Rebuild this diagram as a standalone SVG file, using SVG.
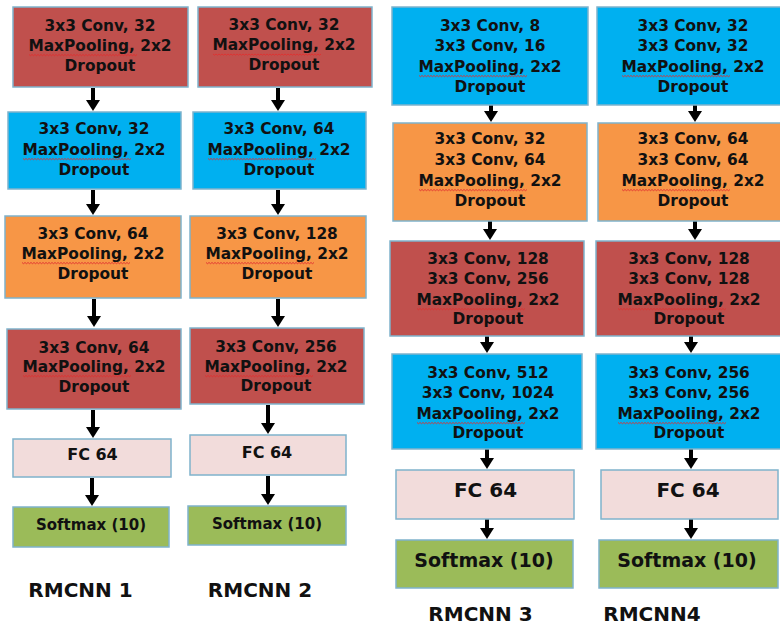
<svg xmlns="http://www.w3.org/2000/svg" xmlns:xlink="http://www.w3.org/1999/xlink" width="780" height="627" viewBox="0 0 780 627">
<style>
.box{stroke:#7fb3cc;stroke-width:1.5}
.red{fill:#c0504d}.blue{fill:#00b0f0}.orange{fill:#f79646}.pink{fill:#f2dcdb}.green{fill:#9bbb59}
text{font-family:"DejaVu Sans","Liberation Sans",sans-serif;font-weight:bold;fill:#111;text-anchor:middle}
.t{font-size:15.4px}
.fs{font-size:16px}.ss{font-size:15px}
.fl{font-size:20px}.sl{font-size:19px}
.lab{font-size:20px}
.arr{stroke:#000;stroke-width:4;fill:none;marker-end:url(#ah)}
.sq{stroke:#e03030;stroke-width:0.9;fill:none}
</style>
<defs>
<marker id="ah" markerUnits="userSpaceOnUse" markerWidth="11" markerHeight="14" viewBox="0 0 11 14" refX="0" refY="7" orient="auto">
<path d="M0,0 L11,7 L0,14 z" fill="#000"/>
</marker>
<path id="sq" class="sq" d="M0 0 l1.5 1.2 l1.5 -1.2 l1.5 1.2 l1.5 -1.2 l1.5 1.2 l1.5 -1.2 l1.5 1.2 l1.5 -1.2 l1.5 1.2 l1.5 -1.2 l1.5 1.2 l1.5 -1.2 l1.5 1.2 l1.5 -1.2 l1.5 1.2 l1.5 -1.2 l1.5 1.2 l1.5 -1.2 l1.5 1.2 l1.5 -1.2 l1.5 1.2 l1.5 -1.2 l1.5 1.2 l1.5 -1.2 l1.5 1.2 l1.5 -1.2 l1.5 1.2 l1.5 -1.2 l1.5 1.2 l1.5 -1.2 l1.5 1.2 l1.5 -1.2 l1.5 1.2 l1.5 -1.2 l1.5 1.2 l1.5 -1.2 l1.5 1.2 l1.5 -1.2 l1.5 1.2 l1.5 -1.2 l1.5 1.2 l1.5 -1.2 l1.5 1.2 l1.5 -1.2 l1.5 1.2 l1.5 -1.2 l1.5 1.2 l1.5 -1.2 l1.5 1.2 l1.5 -1.2 l1.5 1.2 l1.5 -1.2 l1.5 1.2 l1.5 -1.2 l1.5 1.2 l1.5 -1.2 l1.5 1.2 l1.5 -1.2 l1.5 1.2 l1.5 -1.2 l1.5 1.2 l1.5 -1.2 l1.5 1.2 l1.5 -1.2 l1.5 1.2 l1.5 -1.2 l1.5 1.2 l1.5 -1.2 l1.5 1.2 l1.5 -1.2 l1.5 1.2 l1.5 -1.2"/>
</defs>
<rect width="780" height="627" fill="#fff"/>

<g id="connectors">
<line class="arr" x1="93" y1="88" x2="93" y2="100"/>
<line class="arr" x1="93" y1="190" x2="93" y2="204"/>
<line class="arr" x1="94" y1="299" x2="94" y2="316"/>
<line class="arr" x1="93" y1="410" x2="93" y2="427"/>
<line class="arr" x1="92" y1="478" x2="92" y2="495"/>
<line class="arr" x1="278" y1="88" x2="278" y2="100"/>
<line class="arr" x1="278" y1="190" x2="278" y2="204"/>
<line class="arr" x1="278" y1="299" x2="278" y2="316"/>
<line class="arr" x1="268" y1="405" x2="268" y2="423"/>
<line class="arr" x1="268" y1="476" x2="268" y2="494"/>
<line class="arr" x1="491" y1="105" x2="491" y2="111"/>
<line class="arr" x1="490" y1="221" x2="490" y2="229"/>
<line class="arr" x1="487" y1="336" x2="487" y2="342"/>
<line class="arr" x1="487" y1="449" x2="487" y2="458"/>
<line class="arr" x1="487" y1="519" x2="487" y2="528"/>
<line class="arr" x1="695" y1="105" x2="695" y2="111"/>
<line class="arr" x1="695" y1="221" x2="695" y2="229"/>
<line class="arr" x1="691" y1="336" x2="691" y2="342"/>
<line class="arr" x1="691" y1="449" x2="691" y2="458"/>
<line class="arr" x1="691" y1="519" x2="691" y2="528"/>
</g>

<!-- RMCNN 1 -->
<g id="c1b1"><rect class="box red" x="13" y="7" width="175" height="80"/>
<text class="t" x="100" y="30.5">3x3 Conv, 32</text><text class="t" x="100" y="50.5">MaxPooling, 2x2</text><text class="t" x="100" y="70.5">Dropout</text>
<use xlink:href="#sq" x="29" y="54.5"/></g>
<g id="c1b2"><rect class="box blue" x="8" y="112" width="173" height="77"/>
<text class="t" x="94" y="133.5">3x3 Conv, 32</text><text class="t" x="94" y="154.5">MaxPooling, 2x2</text><text class="t" x="94" y="174.5">Dropout</text>
<use xlink:href="#sq" x="23" y="158.5"/></g>
<g id="c1b3"><rect class="box orange" x="5" y="216" width="176" height="82"/>
<text class="t" x="93" y="238.5">3x3 Conv, 64</text><text class="t" x="93" y="258.5">MaxPooling, 2x2</text><text class="t" x="93" y="278.5">Dropout</text>
<use xlink:href="#sq" x="22" y="262.5"/></g>
<g id="c1b4"><rect class="box red" x="7" y="329" width="174" height="80"/>
<text class="t" x="94" y="352.5">3x3 Conv, 64</text><text class="t" x="94" y="371.5">MaxPooling, 2x2</text><text class="t" x="94" y="391.5">Dropout</text>
<use xlink:href="#sq" x="23" y="375.5"/></g>
<g id="c1fc"><rect class="box pink" x="13" y="439" width="158" height="38"/>
<text class="fs" x="92.5" y="459.8">FC 64</text></g>
<g id="c1sm"><rect class="box green" x="13" y="507" width="156" height="40"/>
<text class="ss" x="91" y="529.5">Softmax (10)</text></g>
<g id="lab1"><text class="lab" x="80.5" y="597">RMCNN 1</text></g>

<!-- RMCNN 2 -->
<g id="c2b1"><rect class="box red" x="198" y="7" width="174" height="80"/>
<text class="t" x="284" y="30">3x3 Conv, 32</text><text class="t" x="284" y="50">MaxPooling, 2x2</text><text class="t" x="284" y="70">Dropout</text>
<use xlink:href="#sq" x="213" y="54"/></g>
<g id="c2b2"><rect class="box blue" x="193" y="112" width="173" height="77"/>
<text class="t" x="279" y="133.5">3x3 Conv, 64</text><text class="t" x="279" y="154.5">MaxPooling, 2x2</text><text class="t" x="279" y="174.5">Dropout</text>
<use xlink:href="#sq" x="208" y="158.5"/></g>
<g id="c2b3"><rect class="box orange" x="190" y="216" width="176" height="82"/>
<text class="t" x="277" y="238.5">3x3 Conv, 128</text><text class="t" x="277" y="258.5">MaxPooling, 2x2</text><text class="t" x="277" y="278.5">Dropout</text>
<use xlink:href="#sq" x="206" y="262.5"/></g>
<g id="c2b4"><rect class="box red" x="190" y="328" width="174" height="76"/>
<text class="t" x="276" y="351.5">3x3 Conv, 256</text><text class="t" x="276" y="371.5">MaxPooling, 2x2</text><text class="t" x="276" y="390.5">Dropout</text>
<use xlink:href="#sq" x="205" y="375.5"/></g>
<g id="c2fc"><rect class="box pink" x="190" y="435" width="156" height="40"/>
<text class="fs" x="267" y="457.8">FC 64</text></g>
<g id="c2sm"><rect class="box green" x="188" y="506" width="158" height="39"/>
<text class="ss" x="267" y="528.5">Softmax (10)</text></g>
<g id="lab2"><text class="lab" x="260" y="597">RMCNN 2</text></g>

<!-- RMCNN 3 -->
<g id="c3b1"><rect class="box blue" x="392" y="7" width="196" height="98"/>
<text class="t" x="490" y="30.5">3x3 Conv, 8</text><text class="t" x="490" y="50.5">3x3 Conv, 16</text><text class="t" x="490" y="71.5">MaxPooling, 2x2</text><text class="t" x="490" y="91.5">Dropout</text>
<use xlink:href="#sq" x="419" y="75.5"/></g>
<g id="c3b2"><rect class="box orange" x="393" y="123" width="194" height="98"/>
<text class="t" x="490" y="143.5">3x3 Conv, 32</text><text class="t" x="490" y="164.5">3x3 Conv, 64</text><text class="t" x="490" y="185.5">MaxPooling, 2x2</text><text class="t" x="490" y="205.5">Dropout</text>
<use xlink:href="#sq" x="419" y="189.5"/></g>
<g id="c3b3"><rect class="box red" x="390" y="241" width="194" height="95"/>
<text class="t" x="488" y="263.5">3x3 Conv, 128</text><text class="t" x="488" y="283.5">3x3 Conv, 256</text><text class="t" x="488" y="304.5">MaxPooling, 2x2</text><text class="t" x="488" y="323.5">Dropout</text>
<use xlink:href="#sq" x="417" y="308.5"/></g>
<g id="c3b4"><rect class="box blue" x="392" y="354" width="190" height="95"/>
<text class="t" x="488" y="377.5">3x3 Conv, 512</text><text class="t" x="488" y="397.5">3x3 Conv, 1024</text><text class="t" x="488" y="418.5">MaxPooling, 2x2</text><text class="t" x="488" y="437.5">Dropout</text>
<use xlink:href="#sq" x="417" y="422.5"/></g>
<g id="c3fc"><rect class="box pink" x="396" y="470" width="178" height="49"/>
<text class="fl" x="485.5" y="497.3">FC 64</text></g>
<g id="c3sm"><rect class="box green" x="396" y="540" width="177" height="48"/>
<text class="sl" x="484" y="566.9">Softmax (10)</text></g>
<g id="lab3"><text class="lab" x="480.5" y="621">RMCNN 3</text></g>

<!-- RMCNN4 -->
<g id="c4b1"><rect class="box blue" x="597" y="7" width="186" height="98"/>
<text class="t" x="693" y="30.5">3x3 Conv, 32</text><text class="t" x="693" y="50.5">3x3 Conv, 32</text><text class="t" x="693" y="71.5">MaxPooling, 2x2</text><text class="t" x="693" y="91.5">Dropout</text>
<use xlink:href="#sq" x="622" y="75.5"/></g>
<g id="c4b2"><rect class="box orange" x="598" y="123" width="185" height="98"/>
<text class="t" x="693" y="143.5">3x3 Conv, 64</text><text class="t" x="693" y="164.5">3x3 Conv, 64</text><text class="t" x="693" y="185.5">MaxPooling, 2x2</text><text class="t" x="693" y="205.5">Dropout</text>
<use xlink:href="#sq" x="622" y="189.5"/></g>
<g id="c4b3"><rect class="box red" x="596" y="241" width="187" height="95"/>
<text class="t" x="689" y="263.5">3x3 Conv, 128</text><text class="t" x="689" y="283.5">3x3 Conv, 128</text><text class="t" x="689" y="304.5">MaxPooling, 2x2</text><text class="t" x="689" y="323.5">Dropout</text>
<use xlink:href="#sq" x="618" y="308.5"/></g>
<g id="c4b4"><rect class="box blue" x="596" y="354" width="187" height="95"/>
<text class="t" x="689" y="377.5">3x3 Conv, 256</text><text class="t" x="689" y="397.5">3x3 Conv, 256</text><text class="t" x="689" y="418.5">MaxPooling, 2x2</text><text class="t" x="689" y="437.5">Dropout</text>
<use xlink:href="#sq" x="618" y="422.5"/></g>
<g id="c4fc"><rect class="box pink" x="601" y="470" width="177" height="49"/>
<text class="fl" x="688" y="497.3">FC 64</text></g>
<g id="c4sm"><rect class="box green" x="599" y="540" width="179" height="48"/>
<text class="sl" x="687" y="566.9">Softmax (10)</text></g>
<g id="lab4"><text class="lab" x="652" y="621">RMCNN4</text></g>
</svg>
